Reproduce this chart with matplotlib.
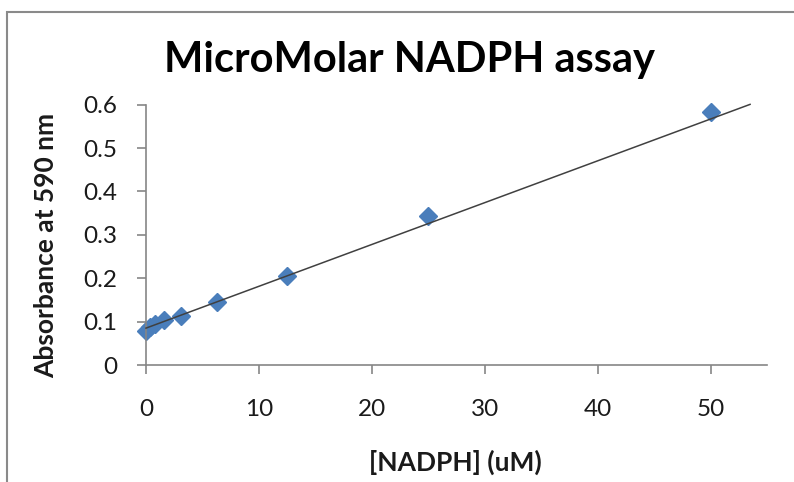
import matplotlib
matplotlib.use("Agg")
import matplotlib.pyplot as plt
from matplotlib.patches import Rectangle
import numpy as np

# Data
nadph_um = [0, 0.39, 0.78, 1.5625, 3.125, 6.25, 12.5, 25, 50]
absorbance = [0.079, 0.088, 0.095, 0.104, 0.113, 0.146, 0.206, 0.343, 0.583]
trend_intercept = 0.085
trend_slope = 0.00964
trend_x_end = 53.5
x_ticks = [0, 10, 20, 30, 40, 50]
y_ticks = [0, 0.1, 0.2, 0.3, 0.4, 0.5, 0.6]
y_tick_labels = ["0", "0.1", "0.2", "0.3", "0.4", "0.5", "0.6"]

title = "MicroMolar NADPH assay"
xlabel = "[NADPH] (uM)"
ylabel = "Absorbance at 590 nm"

plt.rcParams['font.family'] = ['Lato', 'DejaVu Sans']

W, H = 794, 482
fig = plt.figure(figsize=(W / 100, H / 100), dpi=100)
fig.patch.set_facecolor("white")

# outer chart frame (extends off the image on right/bottom)
fig.patches.append(Rectangle((7 / W, -0.2), 1.2, 1.2 - 12 / H,
                             transform=fig.transFigure, fill=False,
                             edgecolor="#8a8a8a", linewidth=1.5))

ax = fig.add_axes([146 / W, 117 / H, (767 - 146) / W, (365 - 104.7) / H])

tx = np.array([0, trend_x_end])
ax.plot(tx, trend_intercept + trend_slope * tx, color="#404040", linewidth=1.1,
        zorder=3, clip_on=False)
ax.plot(nadph_um, absorbance, linestyle="none", marker="D", markersize=9.5,
        color="#4A7EBB", markeredgecolor="#4A7EBB", zorder=2, clip_on=False)

ax.set_xlim(0, 55)
ax.set_ylim(0, 0.6)
ax.set_xticks(x_ticks)
ax.set_xticklabels([str(v) for v in x_ticks])
ax.set_yticks(y_ticks)
ax.set_yticklabels(y_tick_labels)

for s in ["top", "right"]:
    ax.spines[s].set_visible(False)
for s in ["left", "bottom"]:
    ax.spines[s].set_color("#868686")
    ax.spines[s].set_linewidth(1.2)
ax.tick_params(axis="both", direction="out", length=6.5, width=1.2,
               color="#868686", labelsize=17.5, labelcolor="#1a1a1a")
ax.tick_params(axis="x", pad=18)
ax.tick_params(axis="y", pad=14)

fig.text(410 / W, 1 - 60 / H, title, ha="center", va="center",
         fontsize=30, fontweight="bold", color="black")
fig.text(455 / W, 1 - 462 / H, xlabel, ha="center", va="center",
         fontsize=19, fontweight="bold", color="#1a1a1a")
fig.text(46 / W, 1 - 245 / H, ylabel, ha="center", va="center",
         rotation=90, fontsize=19, fontweight="bold", color="#1a1a1a")

fig.savefig("out.png", dpi=100, facecolor="white")
